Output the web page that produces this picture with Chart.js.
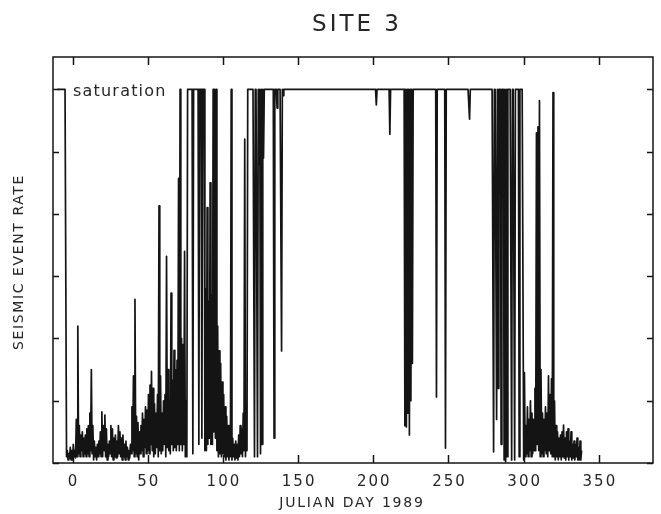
<!DOCTYPE html>
<html>
<head>
<meta charset="utf-8">
<script src="https://cdn.jsdelivr.net/npm/chart.js@4/dist/chart.umd.min.js"></script>
<style>
  body { margin: 0; background: #fff; }
  #wrap { width: 661px; height: 514px; }
</style>
</head>
<body>
<div id="wrap"><canvas id="seismic"></canvas></div>
<script>
// Daily envelope of the seismic event rate.
// Index 0 is day -10; 6 is the saturation level.
const firstDay = -10;

const dayHigh = [
  6, 6, 6, 6, 6, 6, 0.2, 0.15, 0.25, 0.2,              // -10..-1
  0.3, 0.2, 0.7, 2.2, 0.6, 0.45, 0.5, 0.4, 0.45, 0.55,  // 0..9
  0.6, 0.8, 1.5, 0.6, 0.35, 0.25, 0.3, 0.35, 0.5, 0.82, // 10..19
  0.6, 0.77, 0.55, 0.3, 0.35, 0.6, 0.55, 0.4, 0.45, 0.35,
  0.6, 0.5, 0.4, 0.45, 0.3, 0.35, 0.25, 0.2, 0.3, 0.9,  // 30..39
  1.4, 2.63, 0.75, 0.65, 0.5, 0.6, 0.8, 0.7, 0.9, 0.85,
  1.1, 1.25, 1.47, 1.2, 0.95, 0.8, 1.1, 4.13, 1.4, 0.8, // 50..59
  1.0, 1.1, 3.32, 1.5, 1.0, 2.73, 1.33, 1.81, 1.5, 1.65,
  4.57, 6, 2.0, 1.9, 3.4, 1.0, 6, 6, 6, 6,              // 70..79
  6, 6, 6, 6, 6, 6, 6, 6, 2.8, 4.1,
  2.6, 4.5, 2.7, 6, 6, 6, 2.2, 1.8, 1.6, 1.3,           // 90..99
  1.1, 0.9, 0.75, 0.6, 0.5, 6, 0.4, 0.3, 0.35, 0.3,
  0.45, 0.6, 0.55, 0.8, 5.2, 0.6, 6, 6, 6, 6,           // 110..119
  6, 6, 6, 6, 6, 6, 6, 6, 6, 6,
  6, 6, 6, 6, 6, 6, 6, 6, 6, 6,                         // 130..139
  6, 6, 6, 6, 6, 6, 6, 6, 6, 6,
  6, 6, 6, 6, 6, 6, 6, 6, 6, 6,                         // 150..159
  6, 6, 6, 6, 6, 6, 6, 6, 6, 6,
  6, 6, 6, 6, 6, 6, 6, 6, 6, 6,                         // 170..179
  6, 6, 6, 6, 6, 6, 6, 6, 6, 6,
  6, 6, 6, 6, 6, 6, 6, 6, 6, 6,                         // 190..199
  6, 6, 6, 6, 6, 6, 6, 6, 6, 6,
  6, 6, 6, 6, 6, 6, 6, 6, 6, 6,                         // 210..219
  6, 6, 6, 6, 6, 6, 6, 6, 6, 6,
  6, 6, 6, 6, 6, 6, 6, 6, 6, 6,                         // 230..239
  6, 6, 6, 6, 6, 6, 6, 6, 6, 6,
  6, 6, 6, 6, 6, 6, 6, 6, 6, 6,                         // 250..259
  6, 6, 6, 6, 6, 6, 6, 6, 6, 6,
  6, 6, 6, 6, 6, 6, 6, 6, 6, 6,                         // 270..279
  6, 6, 6, 6, 6, 6, 6, 6, 6, 6,
  6, 6, 6, 6, 6, 6, 6, 6, 6, 6,                         // 290..299
  1.45, 0.6, 0.9, 0.7, 1.0, 0.8, 0.7, 1.2, 5.3, 5.4,
  5.82, 1.5, 0.8, 0.7, 0.9, 0.8, 1.4, 1.1, 1.35, 5.95,  // 310..319
  1.0, 0.6, 0.5, 0.4, 0.45, 0.5, 0.61, 0.4, 0.5, 0.55,
  0.35, 0.5, 0.3, 0.35, 0.3, 0.4, 0.25, 0.35, 0.2       // 330..338
];

const dayLow = [
  6, 6, 6, 6, 6, 6, 0.1, 0.05, 0.08, 0.05,             // -10..-1
  0.05, 0.1, 0.08, 0.1, 0.15, 0.1, 0.2, 0.1, 0.15, 0.1, // 0..9
  0.15, 0.1, 0.2, 0.15, 0.05, 0.1, 0.05, 0.1, 0.15, 0.1,
  0.1, 0.2, 0.1, 0.05, 0.1, 0.15, 0.1, 0.05, 0.1, 0.08, // 20..29
  0.1, 0.15, 0.1, 0.05, 0.1, 0.05, 0.1, 0.05, 0.08, 0.15,
  0.2, 0.1, 0.15, 0.1, 0.05, 0.15, 0.2, 0.1, 0.25, 0.15, // 40..49
  0.2, 0.15, 0.3, 0.2, 0.1, 0.15, 0.25, 0.1, 0.2, 0.15,
  0.2, 0.3, 0.1, 0.25, 0.2, 0.15, 0.3, 0.2, 0.25, 0.2,  // 60..69
  0.3, 0.2, 0.3, 0.2, 0.3, 0.1, 0.1, 6, 6, 6,
  0.15, 6, 6, 6, 0.3, 6, 0.4, 6, 0.2, 0.2,              // 80..89
  0.3, 0.4, 0.3, 0.3, 0.5, 0.4, 0.2, 0.1, 0.15, 0.1,
  0.15, 0.1, 0.05, 0.1, 0.05, 0.1, 0.05, 0.1, 0.05, 0.08, // 100..109
  0.05, 0.1, 0.15, 0.1, 0.2, 0.1, 0.2, 6, 6, 6,
  6, 0.1, 6, 0.1, 4.8, 0.15, 0.3, 4.9, 6, 6,            // 120..129
  6, 6, 6, 6, 0.4, 6, 5.7, 6, 6, 1.8,
  5.9, 6, 6, 6, 6, 6, 6, 6, 6, 6,                       // 140..149
  6, 6, 6, 6, 6, 6, 6, 6, 6, 6,
  6, 6, 6, 6, 6, 6, 6, 6, 6, 6,                         // 160..169
  6, 6, 6, 6, 6, 6, 6, 6, 6, 6,
  6, 6, 6, 6, 6, 6, 6, 6, 6, 6,                         // 180..189
  6, 6, 6, 6, 6, 6, 6, 6, 6, 6,
  6, 6, 5.75, 6, 6, 6, 6, 6, 6, 6,                      // 200..209
  6, 5.28, 6, 6, 6, 6, 6, 6, 6, 6,
  6, 0.6, 0.58, 0.8, 0.45, 1.0, 1.6, 6, 6, 6,           // 220..229
  6, 6, 6, 6, 6, 6, 6, 6, 6, 6,
  6, 6, 1.06, 6, 6, 6, 6, 6, 0.24, 6,                   // 240..249
  6, 6, 6, 6, 6, 6, 6, 6, 6, 6,
  6, 6, 6, 6, 5.52, 6, 6, 6, 6, 6,                      // 260..269
  6, 6, 6, 6, 6, 6, 6, 6, 6, 6,
  0.18, 6, 0.7, 1.2, 6, 0.3, 6, 0.05, 0.02, 0.1,        // 280..289
  6, 6, 0.05, 6, 0.05, 6, 6, 0.1, 6, 6,
  0.05, 0.1, 0.15, 0.1, 0.2, 0.1, 0.15, 0.2, 0.2, 0.3,  // 300..309
  0.2, 0.1, 0.15, 0.1, 0.2, 0.15, 0.1, 0.2, 0.15, 0.1,
  0.1, 0.05, 0.1, 0.05, 0.1, 0.05, 0.1, 0.08, 0.05, 0.1, // 320..329
  0.05, 0.1, 0.05, 0.08, 0.05, 0.1, 0.05, 0.05, 0.05
];

const xTicks = [0, 50, 100, 150, 200, 250, 300, 350];
const yTicks = [0, 1, 2, 3, 4, 5, 6];
const saturationLevel = 6;

// each day drawn as its low then its high, so dense days fill in black
const trace = [];
dayHigh.forEach((h, i) => {
    const d = firstDay + i;
    trace.push({ x: d, y: dayLow[i] });
    trace.push({ x: d + 0.5, y: h });
});

const ink = '#141414';
const textInk = '#262626';

function spacedText(ctx, str, x, y, spacing) {
    ctx.letterSpacing = spacing + 'px';
    ctx.fillText(str, x, y);
    ctx.letterSpacing = '0px';
}

const framePlugin = {
    id: 'frame',
    afterDraw(chart) {
        const { ctx, chartArea: a, scales: { x, y } } = chart;
        ctx.save();
        ctx.strokeStyle = ink;
        ctx.lineWidth = 1.5;
        ctx.strokeRect(a.left, a.top, a.right - a.left, a.bottom - a.top);

        // inward tick marks on all four sides
        ctx.beginPath();
        xTicks.forEach(v => {
            const px = Math.round(x.getPixelForValue(v)) + 0.5;
            ctx.moveTo(px, a.bottom); ctx.lineTo(px, a.bottom - 8);
            ctx.moveTo(px, a.top); ctx.lineTo(px, a.top + 8);
        });
        yTicks.forEach(v => {
            const py = Math.round(y.getPixelForValue(v)) + 0.5;
            ctx.moveTo(a.left, py); ctx.lineTo(a.left + 6, py);
            ctx.moveTo(a.right, py); ctx.lineTo(a.right - 6, py);
        });
        ctx.stroke();

        ctx.fillStyle = textInk;
        ctx.textAlign = 'center';
        ctx.textBaseline = 'middle';

        // x tick labels
        ctx.font = '15px "DejaVu Sans"';
        xTicks.forEach(v => {
            spacedText(ctx, String(v), x.getPixelForValue(v) + 1, 482, 2);
        });

        // titles
        ctx.font = '14px "DejaVu Sans"';
        spacedText(ctx, 'JULIAN DAY 1989', 352, 503, 1.8);

        ctx.font = '23px "DejaVu Sans"';
        spacedText(ctx, 'SITE 3', 357, 25, 3);

        ctx.save();
        ctx.translate(19, 262);
        ctx.rotate(-Math.PI / 2);
        ctx.font = '14px "DejaVu Sans"';
        spacedText(ctx, 'SEISMIC EVENT RATE', 0, 0, 1.6);
        ctx.restore();

        // saturation label
        ctx.textAlign = 'left';
        ctx.textBaseline = 'alphabetic';
        ctx.font = '16px "DejaVu Sans"';
        spacedText(ctx, 'saturation', 73, y.getPixelForValue(saturationLevel) + 7, 1.2);
        ctx.restore();
    }
};

new Chart(document.getElementById('seismic'), {
    type: 'line',
    data: {
        datasets: [{
            data: trace,
            borderColor: ink,
            borderWidth: 1.7,
            borderJoinStyle: 'round',
            pointRadius: 0,
            tension: 0,
            fill: false
        }]
    },
    options: {
        responsive: true,
        maintainAspectRatio: false,
        animation: false,
        layout: { padding: { left: 53, top: 57, right: 8, bottom: 51 } },
        plugins: { legend: { display: false }, tooltip: { enabled: false } },
        scales: {
            x: { type: 'linear', min: -13, max: 386, display: false },
            y: { min: 0, max: 6.52, display: false }
        }
    },
    plugins: [framePlugin]
});
</script>
</body>
</html>
